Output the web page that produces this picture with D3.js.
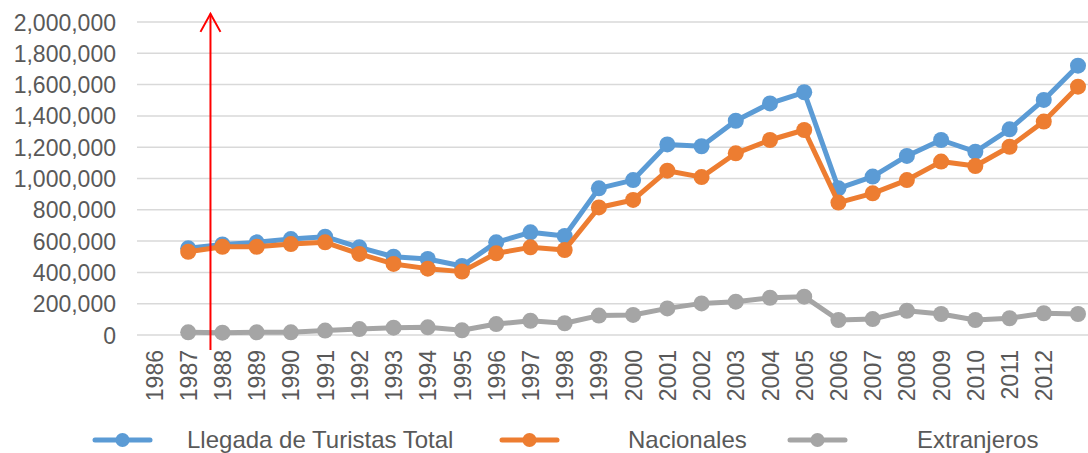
<!DOCTYPE html>
<html>
<head>
<meta charset="utf-8">
<script src="https://cdn.jsdelivr.net/npm/d3@7"></script>
<style>
  body { margin: 0; background: #fff; }
  svg { display: block; font-family: "Liberation Sans", Arial, sans-serif; }
</style>
</head>
<body>
<svg id="chart" width="1088" height="453"></svg>
<script>
// years on the category axis (last one has no label in the original)
var years = d3.range(1986, 2014);
var yearLabels = d3.range(1986, 2013);

// values (1986 has no data)
var total = [null, 554000, 579000, 592000, 613000, 628000, 560000, 500000, 486000, 441000,
  592000, 656000, 633000, 937000, 990000, 1218000, 1206000, 1369000, 1480000, 1551000,
  937000, 1012000, 1144000, 1246000, 1171000, 1314000, 1502000, 1721000];
var nacionales = [null, 532000, 564000, 564000, 581000, 592000, 518000, 454000, 424000, 405000,
  522000, 560000, 543000, 815000, 863000, 1050000, 1009000, 1161000, 1246000, 1310000,
  846000, 905000, 990000, 1108000, 1080000, 1203000, 1364000, 1587000];
var extranjeros = [null, 17000, 15000, 17000, 17000, 28000, 38000, 47000, 49000, 30000,
  70000, 91000, 75000, 124000, 128000, 170000, 202000, 213000, 238000, 245000,
  96000, 102000, 155000, 134000, 96000, 107000, 139000, 134000];

var seriesNames = ["Llegada de Turistas Total", "Nacionales", "Extranjeros"];
var seriesColors = ["#5B9BD5", "#ED7D31", "#A5A5A5"];
var yTicks = d3.range(0, 2000001, 200000);

var svg = d3.select("#chart");

var x = d3.scalePoint()
    .domain(years)
    .range([154, 1078]);

var y = d3.scaleLinear()
    .domain([0, 2000000])
    .range([335, 22]);

var fmt = d3.format(",");

// horizontal gridlines
svg.append("g")
  .selectAll("line")
  .data(yTicks)
  .join("line")
    .attr("x1", 137)
    .attr("x2", 1088)
    .attr("y1", d => y(d))
    .attr("y2", d => y(d))
    .style("stroke", "#d9d9d9")
    .style("stroke-width", 1.5);

// y axis labels
var yAxis = d3.axisLeft(y).tickValues(yTicks).tickFormat(fmt).tickSize(0).tickPadding(0);
var gy = svg.append("g")
  .attr("transform", "translate(116,0)")
  .call(yAxis);
gy.select(".domain").remove();
gy.selectAll("text")
  .style("font-size", "23px")
  .style("fill", "#595959")
  .attr("dy", "0.35em");

// x axis labels, rotated
var xAxis = d3.axisBottom(x).tickValues(yearLabels).tickSize(0).tickPadding(0);
var gx = svg.append("g")
  .attr("transform", "translate(0,350)")
  .call(xAxis);
gx.select(".domain").remove();
gx.selectAll("text")
  .style("font-size", "23px")
  .style("fill", "#595959")
  .attr("transform", "rotate(-90)")
  .attr("text-anchor", "end")
  .attr("x", 0)
  .attr("y", 0)
  .attr("dy", "0.35em");

var allSeries = [total, nacionales, extranjeros];

var line = d3.line()
    .defined(d => d.v != null)
    .x(d => x(d.year))
    .y(d => y(d.v));

allSeries.forEach(function(values, i) {
  var pts = years.map((yr, j) => ({year: yr, v: values[j]}));
  var g = svg.append("g");
  g.append("path")
    .datum(pts)
    .attr("d", line)
    .style("fill", "none")
    .style("stroke", seriesColors[i])
    .style("stroke-width", 5)
    .style("stroke-linejoin", "round");
  g.selectAll("circle")
    .data(pts.filter(d => d.v != null))
    .join("circle")
      .attr("cx", d => x(d.year))
      .attr("cy", d => y(d.v))
      .attr("r", 8)
      .style("fill", seriesColors[i]);
});

// red arrow annotation
var step = x.step();
var ax = x(1987) + 0.65 * step;
var tipY = y(2052000);
svg.append("line")
  .attr("x1", ax).attr("x2", ax)
  .attr("y1", y(-96000)).attr("y2", tipY)
  .style("stroke", "#ff0000")
  .style("stroke-width", 2);
svg.append("path")
  .attr("d", "M" + (ax - 10) + "," + (tipY + 18) + "L" + ax + "," + tipY + "L" + (ax + 10) + "," + (tipY + 18))
  .style("fill", "none")
  .style("stroke", "#ff0000")
  .style("stroke-width", 2);

// legend
var legendX = [95, 502, 790];
var legendTextX = [187, 628, 917];
var legendY = 440;
seriesNames.forEach(function(name, i) {
  var g = svg.append("g");
  g.append("line")
    .attr("x1", legendX[i]).attr("x2", legendX[i] + 55)
    .attr("y1", legendY).attr("y2", legendY)
    .style("stroke", seriesColors[i])
    .style("stroke-width", 5)
    .style("stroke-linecap", "round");
  g.append("circle")
    .attr("cx", legendX[i] + 27.5)
    .attr("cy", legendY)
    .attr("r", 7)
    .style("fill", seriesColors[i]);
  g.append("text")
    .attr("x", legendTextX[i])
    .attr("y", legendY)
    .attr("dy", "0.35em")
    .style("font-size", "24px")
    .style("fill", "#595959")
    .text(name);
});
</script>
</body>
</html>
